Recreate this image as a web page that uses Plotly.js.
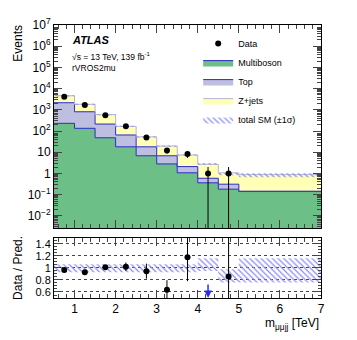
<!DOCTYPE html>
<html>
<head>
<meta charset="utf-8">
<script src="https://cdn.plot.ly/plotly-3.0.1.min.js"></script>
<style>body{margin:0;} #chart{width:357px;height:340px;}</style>
</head>
<body>
<div id="chart"></div>
<script>
// bins in m_mumujj [TeV]
var edges = [0.5, 1.0, 1.5, 2.0, 2.5, 3.0, 3.5, 4.0, 4.5, 5.0, 7.0];
var centers = [0.75, 1.25, 1.75, 2.25, 2.75, 3.25, 3.75, 4.25, 4.75];

// backgrounds (events per bin)
var multiboson = [230, 134, 48, 18, 6.8, 2.8, 1.07, 0.36, 0.18, 0.14];
var topq       = [1930, 676, 165, 47, 11.2, 4.0, 1.03, 0.23, 0.13, 0.005];
var zjets      = [2460, 1010, 377, 101, 35, 12.7, 5.3, 2.1, 0.76, 0.73];

// data
var data     = [4150, 1700, 550, 166, 50, 12, 8.3, 1, 1];
var dataErrUp = [64, 41, 23, 13, 7, 3.5, 2.9, 1, 1];
var dataErrDn = [64, 41, 23, 13, 7, 3.5, 2.9, 0.999, 0.999];

// total SM uncertainty, relative (lower / upper)
var bandLo = [0.93, 0.93, 0.93, 0.93, 0.93, 0.93, 0.93, 0.95, 0.76, 0.76];
var bandHi = [1.06, 1.06, 1.06, 1.06, 1.06, 1.06, 1.06, 1.16, 0.98, 1.16];

// data / prediction
var ratio    = [0.967, 0.93, 1.01, 1.02, 0.947, 0.637, 1.18, null, 0.858];
var ratioErr = [0.015, 0.025, 0.035, 0.07, 0.125, 0.16, 0.4, 0, 0.9];

var blue = "#2a2ac4";

// helper: histogram step needs last value repeated
function steps(arr) { return arr.concat([arr[arr.length - 1]]); }

var s1 = [], s2 = [], s3 = [];
for (var i = 0; i < multiboson.length; i++) {
    s1.push(multiboson[i]);
    s2.push(multiboson[i] + topq[i]);
    s3.push(multiboson[i] + topq[i] + zjets[i]);
}
var totLo = s3.map(function (v, i) { return v * bandLo[i]; });
var totHi = s3.map(function (v, i) { return v * bandHi[i]; });

var hatch = {shape: "\\", fgcolor: "#8a8af4", bgcolor: "rgba(0,0,0,0)", size: 4, solidity: 0.3};

var traces = [
    {x: edges, y: steps(s1), mode: "lines", line: {shape: "hv", color: blue, width: 1},
     fill: "tozeroy", fillcolor: "#6cbf87", name: "Multiboson", legendrank: 2},
    {x: edges, y: steps(s2), mode: "lines", line: {shape: "hv", color: blue, width: 1},
     fill: "tonexty", fillcolor: "#bebee0", name: "Top", legendrank: 3},
    {x: edges, y: steps(s3), mode: "lines", line: {shape: "hv", color: "#b4b4d4", width: 1},
     fill: "tonexty", fillcolor: "#ffffb6", name: "Z+jets", legendrank: 4},
    {x: edges, y: steps(totLo), mode: "lines", line: {shape: "hv", width: 0},
     showlegend: false, hoverinfo: "skip"},
    {x: edges, y: steps(totHi), mode: "lines", line: {shape: "hv", width: 0},
     fill: "tonexty", fillcolor: "rgba(0,0,0,0)", fillpattern: hatch,
     name: "total SM (\u00b11\u03c3)", legendrank: 5},
    {x: centers, y: data, mode: "markers", marker: {color: "black", size: 6},
     error_y: {type: "data", array: dataErrUp, arrayminus: dataErrDn, color: "black", thickness: 1, width: 0},
     name: "Data", legendrank: 1},
    // ratio panel
    {x: edges, y: steps(bandLo), xaxis: "x2", yaxis: "y2", mode: "lines",
     line: {shape: "hv", width: 0}, showlegend: false, hoverinfo: "skip"},
    {x: edges, y: steps(bandHi), xaxis: "x2", yaxis: "y2", mode: "lines",
     line: {shape: "hv", width: 0}, fill: "tonexty", fillcolor: "rgba(0,0,0,0)",
     fillpattern: hatch, showlegend: false},
    {x: centers, y: ratio, xaxis: "x2", yaxis: "y2", mode: "markers",
     marker: {color: "black", size: 6},
     error_y: {type: "data", array: ratioErr, color: "black", thickness: 1, width: 0},
     showlegend: false}
];

// log axis ticks
var majVals = [], majText = [], minVals = [];
for (var e = -2; e <= 7; e++) {
    majVals.push(Math.pow(10, e));
    if (e === 0) majText.push("1");
    else if (e === 1) majText.push("10");
    else majText.push("10<sup>" + (e < 0 ? "\u2212" + (-e) : e) + "</sup>");
}
for (var e2 = -3; e2 <= 6; e2++) {
    for (var k = 2; k <= 9; k++) minVals.push(k * Math.pow(10, e2));
}

var font = "Liberation Sans, Arial, sans-serif";

var layout = {
    width: 357, height: 340,
    margin: {l: 54, r: 36, t: 25, b: 42},
    paper_bgcolor: "white", plot_bgcolor: "white",
    font: {family: font, color: "black", size: 12},
    showlegend: true,
    legend: {x: 0.54, y: 0.985, xanchor: "left", yanchor: "top", bgcolor: "rgba(0,0,0,0)",
             font: {size: 9}, itemwidth: 30, tracegroupgap: 0, traceorder: "normal"},
    xaxis: {domain: [0, 1], range: [0.5, 7], anchor: "y", showticklabels: false,
            ticks: "inside", ticklen: 8, dtick: 1, tick0: 0, showline: true, mirror: "allticks",
            linecolor: "black", showgrid: false, zeroline: false,
            minor: {dtick: 0.2, tick0: 0, ticks: "inside", ticklen: 4}},
    yaxis: {domain: [0.256, 1], type: "log", range: [-2.58, 7], anchor: "x",
            tickmode: "array", tickvals: majVals, ticktext: majText,
            ticks: "inside", ticklen: 8, showline: true, mirror: "allticks",
            linecolor: "black", showgrid: false, zeroline: false, tickfont: {size: 12},
            minor: {tickmode: "array", tickvals: minVals, ticks: "inside", ticklen: 4}},
    xaxis2: {domain: [0, 1], range: [0.5, 7], anchor: "y2", matches: "x",
             tickmode: "array", tickvals: [1, 2, 3, 4, 5, 6, 7],
             ticks: "inside", ticklen: 8, showline: true, mirror: "allticks",
             linecolor: "black", showgrid: false, zeroline: false, tickfont: {size: 12},
             minor: {dtick: 0.2, tick0: 0, ticks: "inside", ticklen: 4}},
    yaxis2: {domain: [0, 0.22], range: [0.5, 1.5], anchor: "x2",
             tickmode: "array", tickvals: [0.6, 0.8, 1, 1.2, 1.4],
             ticktext: ["0.6", "0.8", "1", "1.2", "1.4"],
             ticks: "inside", ticklen: 7, showline: true, mirror: "allticks",
             linecolor: "black", zeroline: false, tickfont: {size: 11},
             showgrid: true, gridcolor: "#444", griddash: "dot", gridwidth: 1,
             minor: {dtick: 0.05, tick0: 0, ticks: "inside", ticklen: 3}},
    annotations: [
        {text: "Events", xref: "paper", yref: "paper", x: -0.135, y: 1.01,
         xanchor: "center", yanchor: "top", textangle: -90, showarrow: false, font: {size: 12}},
        {text: "Data / Pred.", xref: "paper", yref: "paper", x: -0.135, y: 0.11,
         xanchor: "center", yanchor: "middle", textangle: -90, showarrow: false, font: {size: 12}},
        {text: "m<sub>\u03bc\u03bcjj</sub> [TeV]", xref: "paper", yref: "paper", x: 1.0, y: -0.058,
         xanchor: "right", yanchor: "top", showarrow: false, font: {size: 12}},
        {text: "<b><i>ATLAS</i></b>", xref: "paper", yref: "paper", x: 0.06, y: 0.945,
         xanchor: "left", yanchor: "middle", showarrow: false, font: {size: 11}},
        {text: "\u221as = 13 TeV, 139 fb<sup>-1</sup>", xref: "paper", yref: "paper", x: 0.06, y: 0.886,
         xanchor: "left", yanchor: "middle", showarrow: false, font: {size: 8.5}},
        {text: "rVROS2mu", xref: "paper", yref: "paper", x: 0.06, y: 0.842,
         xanchor: "left", yanchor: "middle", showarrow: false, font: {size: 8.5}},
        {text: "", xref: "x2", yref: "y2", x: 4.25, y: 0.5, ax: 0, ay: -15,
         showarrow: true, arrowhead: 2, arrowsize: 1, arrowwidth: 1.5, arrowcolor: "#2a2aff"}
    ]
};

Plotly.newPlot("chart", traces, layout, {staticPlot: true});
</script>
</body>
</html>
